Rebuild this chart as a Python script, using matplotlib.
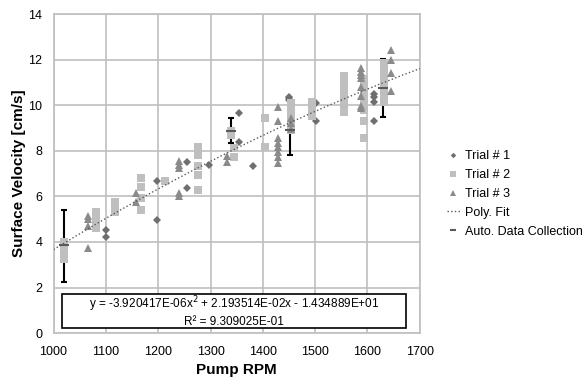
import matplotlib as mpl
mpl.use('Agg')
import numpy as np
import matplotlib.pyplot as plt
from matplotlib.patches import Rectangle

mpl.rcParams.update({
    'font.family': ['Liberation Sans', 'DejaVu Sans'],
    'font.size': 9,
})

# Trial # 1 (diamonds)
rpm1 = [1100, 1100, 1198, 1198, 1256, 1256, 1297, 1355, 1355, 1382,
        1450, 1450, 1450, 1501, 1501, 1612, 1612, 1612, 1612]
vel1 = [4.52, 4.24, 6.66, 4.96, 7.51, 6.36, 7.38, 9.67, 8.39, 7.32,
        10.38, 10.30, 10.23, 10.09, 9.33, 10.50, 10.38, 10.16, 9.33]

# Trial # 2 (squares)
rpm2 = [1020] * 5 + [1082] * 6 + [1118] * 4 + [1167] * 4 + [1213] \
    + [1276] * 5 + [1340] * 2 + [1344] * 2 + [1404] * 2 + [1454] * 7 \
    + [1494] * 4 + [1555] * 9 + [1594] * 8 + [1631] * 9
vel2 = [4.0, 3.85, 3.7, 3.55, 3.25,
        5.3, 5.15, 5.0, 4.85, 4.7, 4.6,
        5.75, 5.6, 5.45, 5.3,
        6.81, 6.42, 5.94, 5.39,
        6.66,
        8.19, 7.83, 7.32, 6.96, 6.30,
        8.85, 8.7,
        8.12, 7.73,
        9.45, 8.16,
        10.1, 9.9, 9.7, 9.5, 9.3, 9.1, 8.9,
        10.15, 9.95, 9.75, 9.55,
        11.3, 11.1, 10.9, 10.7, 10.5, 10.3, 10.1, 9.9, 9.7,
        11.15, 10.9, 10.6, 10.3, 10.0, 9.8, 9.33, 8.56,
        11.85, 11.6, 11.4, 11.2, 11.0, 10.8, 10.6, 10.4, 10.15]

# Trial # 3 (triangles)
rpm3 = [1065] * 4 + [1158] * 2 + [1240] * 5 + [1332] * 2 + [1429] * 8 \
    + [1454] * 3 + [1587] * 8 + [1645] * 4
vel3 = [5.13, 4.99, 4.72, 3.72,
        6.15, 5.76,
        7.54, 7.40, 7.25, 6.15, 6.0,
        7.79, 7.49,
        9.94, 9.29, 8.56, 8.36, 8.15, 7.95, 7.74, 7.48,
        9.45, 9.2, 8.95,
        11.62, 11.48, 11.33, 11.18, 10.79, 10.41, 9.97, 9.87,
        12.42, 11.99, 11.43, 10.63]

# Auto. Data Collection with error bars
rpm_auto = [1021, 1339, 1451, 1630]
vel_auto = [3.85, 8.85, 8.92, 10.75]
err_lo = [1.60, 0.51, 1.12, 1.27]
err_hi = [1.55, 0.58, 0.98, 1.27]

# poly fit coefficients
c2, c1, c0 = -3.920417E-06, 2.193514E-02, -1.434889E+01
x_fit = np.linspace(1000, 1700, 500)
y_fit = c2 * x_fit**2 + c1 * x_fit + c0

fig = plt.figure(figsize=(5.88, 3.82), dpi=100)
ax = fig.add_axes([0.091, 0.128, 0.623, 0.835])

ax.errorbar(rpm_auto, vel_auto, yerr=[err_lo, err_hi], fmt='none', ecolor='black',
            elinewidth=1.5, capsize=2, capthick=1.5, zorder=2.5)
ax.plot(rpm1, vel1, 'D', color='#6f6f6f', ms=4, mew=0, label='Trial # 1', zorder=3)
ax.plot(rpm2, vel2, 's', color='#bfbfbf', ms=5.5, mew=0, label='Trial # 2', zorder=3)
ax.plot(rpm3, vel3, '^', color='#8a8a8a', ms=5.5, mew=0, label='Trial # 3', zorder=3)
ax.plot(x_fit, y_fit, ':', color='#595959', lw=1.0, label='Poly. Fit', zorder=4)
ax.plot(rpm_auto, vel_auto, '_', color='#595959', ms=7, mew=1.5,
        label='Auto. Data Collection', zorder=6)

ax.set_xlim(1000, 1700)
ax.set_ylim(0, 14)
ax.set_xticks(np.arange(1000, 1701, 100))
ax.set_yticks(np.arange(0, 15, 2))
ax.grid(True, color='#bfbfbf', lw=1.2)
ax.set_axisbelow(True)
for s in ax.spines.values():
    s.set_color('#bfbfbf')
    s.set_linewidth(1.2)
ax.tick_params(axis='x', length=0, pad=9, labelsize=9, colors='black')
ax.tick_params(axis='y', length=0, pad=8, labelsize=9, colors='black')

ax.set_xlabel('Pump RPM', fontsize=11, fontweight='bold', labelpad=4)
ax.set_ylabel('Surface Velocity [cm/s]', fontsize=11, fontweight='bold', labelpad=2)

# equation box
ax.add_patch(Rectangle((1016, 0.22), 658, 1.48, fc='white', ec='black', lw=1.2, zorder=7))
eq = ('y = -3.920417E-06x$^2$ + 2.193514E-02x - 1.434889E+01\n'
      'R² = 9.309025E-01')
ax.text(1345, 0.96, eq, ha='center', va='center', fontsize=8.5, linespacing=1.15,
        zorder=8)

fig.legend(loc='upper left', bbox_to_anchor=(0.752, 0.62), frameon=False,
           fontsize=9, handlelength=1.0, handletextpad=0.4, labelspacing=0.55,
           markerscale=0.7, borderaxespad=0)

fig.savefig('out.png', dpi=100)
